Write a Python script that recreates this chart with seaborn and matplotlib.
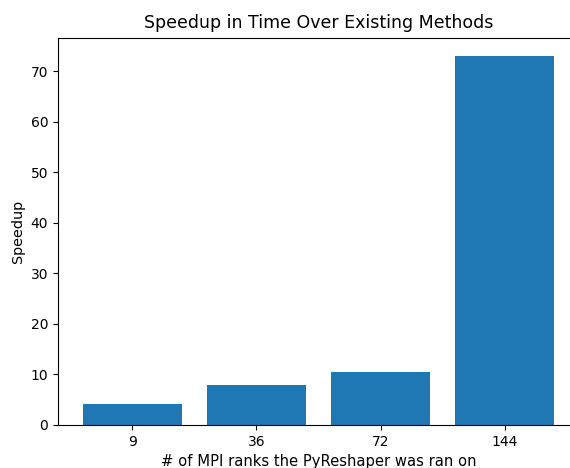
import matplotlib
matplotlib.use("Agg")
import matplotlib.pyplot as plt
import seaborn as sns
import pandas as pd

ranks = ["9", "36", "72", "144"]
speedup = [4.25, 7.95, 10.4, 72.9]

sns.set_style("ticks")
plt.rcParams['font.family'] = ['DejaVu Sans']
plt.rcParams['text.color'] = 'black'
plt.rcParams['axes.labelcolor'] = 'black'

df = pd.DataFrame({"ranks": ranks, "speedup": speedup})

fig = plt.figure(figsize=(5.7, 4.68), dpi=100)
ax = fig.add_axes([58/570, 43/468, 521/570, 387/468])
sns.barplot(data=df, x="ranks", y="speedup", order=ranks, color="#1f77b4",
            saturation=1, width=0.8, linewidth=0, ax=ax)
ax.set_xlim(-0.6, 3.6)
ax.set_ylim(0, max(speedup) * 1.05)
ax.set_yticks([0, 10, 20, 30, 40, 50, 60, 70])
ax.set_title("Speedup in Time Over Existing Methods", fontsize=12.5, color="black", pad=7)
ax.set_xlabel("# of MPI ranks the PyReshaper was ran on", fontsize=10.6, color="black", labelpad=4)
ax.set_ylabel("Speedup", fontsize=10.4, color="black")
ax.tick_params(labelsize=10, length=3.5, width=0.8, color="black", labelcolor="black")
for s in ax.spines.values():
    s.set_visible(True)
    s.set_color("black")
    s.set_linewidth(0.8)
ax.spines["right"].set_visible(False)
fig.savefig("out.png", dpi=100)
